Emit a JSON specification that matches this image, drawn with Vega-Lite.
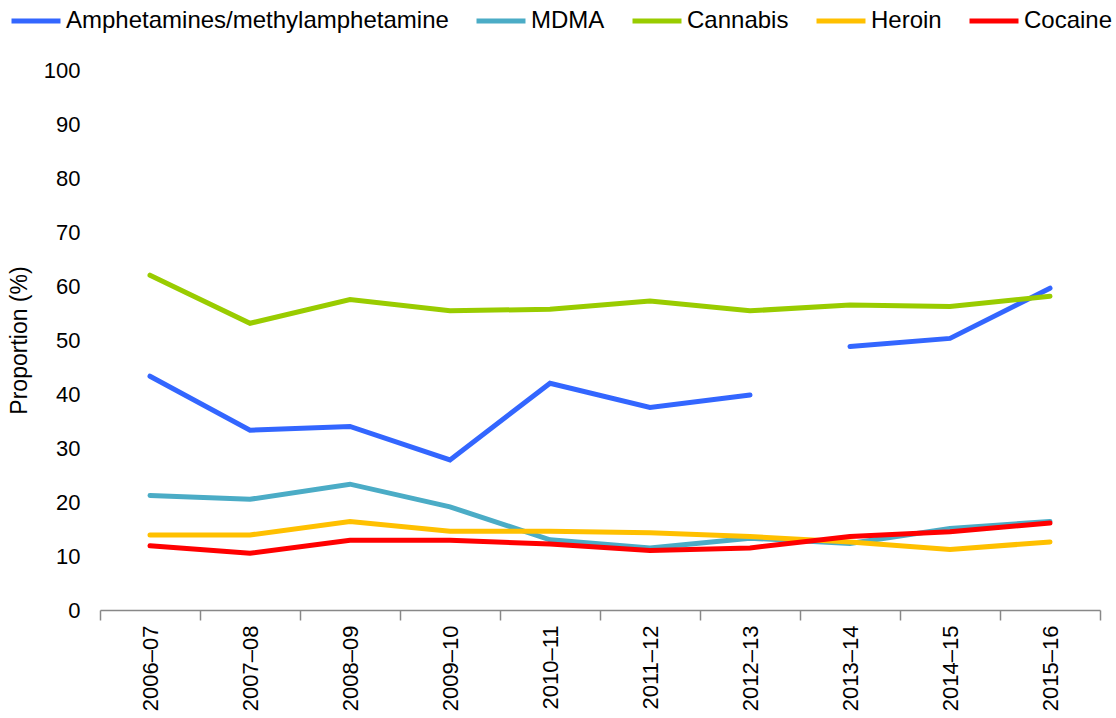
{
  "$schema": "https://vega.github.io/schema/vega-lite/v6.json",
  "width": 1000,
  "height": 540,
  "autosize": "none",
  "padding": {"left": 100, "top": 70, "right": 16, "bottom": 108},
  "background": "white",
  "config": {
    "font": "Liberation Sans",
    "view": {"stroke": null}
  },
  "data": {
    "values": [
      {"period": "2006–07", "drug": "Amphetamines/methylamphetamine", "seg": "a", "value": 43.3},
      {"period": "2007–08", "drug": "Amphetamines/methylamphetamine", "seg": "a", "value": 33.3},
      {"period": "2008–09", "drug": "Amphetamines/methylamphetamine", "seg": "a", "value": 34.0},
      {"period": "2009–10", "drug": "Amphetamines/methylamphetamine", "seg": "a", "value": 27.8},
      {"period": "2010–11", "drug": "Amphetamines/methylamphetamine", "seg": "a", "value": 42.0},
      {"period": "2011–12", "drug": "Amphetamines/methylamphetamine", "seg": "a", "value": 37.5},
      {"period": "2012–13", "drug": "Amphetamines/methylamphetamine", "seg": "a", "value": 39.8},
      {"period": "2013–14", "drug": "Amphetamines/methylamphetamine", "seg": "b", "value": 48.8},
      {"period": "2014–15", "drug": "Amphetamines/methylamphetamine", "seg": "b", "value": 50.3},
      {"period": "2015–16", "drug": "Amphetamines/methylamphetamine", "seg": "b", "value": 59.6},
      {"period": "2006–07", "drug": "MDMA", "seg": "a", "value": 21.2},
      {"period": "2007–08", "drug": "MDMA", "seg": "a", "value": 20.5},
      {"period": "2008–09", "drug": "MDMA", "seg": "a", "value": 23.3},
      {"period": "2009–10", "drug": "MDMA", "seg": "a", "value": 19.1},
      {"period": "2010–11", "drug": "MDMA", "seg": "a", "value": 13.0},
      {"period": "2011–12", "drug": "MDMA", "seg": "a", "value": 11.5},
      {"period": "2012–13", "drug": "MDMA", "seg": "a", "value": 13.3},
      {"period": "2013–14", "drug": "MDMA", "seg": "a", "value": 12.3},
      {"period": "2014–15", "drug": "MDMA", "seg": "a", "value": 15.1},
      {"period": "2015–16", "drug": "MDMA", "seg": "a", "value": 16.4},
      {"period": "2006–07", "drug": "Cannabis", "seg": "a", "value": 62.0},
      {"period": "2007–08", "drug": "Cannabis", "seg": "a", "value": 53.1},
      {"period": "2008–09", "drug": "Cannabis", "seg": "a", "value": 57.5},
      {"period": "2009–10", "drug": "Cannabis", "seg": "a", "value": 55.4},
      {"period": "2010–11", "drug": "Cannabis", "seg": "a", "value": 55.7},
      {"period": "2011–12", "drug": "Cannabis", "seg": "a", "value": 57.2},
      {"period": "2012–13", "drug": "Cannabis", "seg": "a", "value": 55.4},
      {"period": "2013–14", "drug": "Cannabis", "seg": "a", "value": 56.5},
      {"period": "2014–15", "drug": "Cannabis", "seg": "a", "value": 56.2},
      {"period": "2015–16", "drug": "Cannabis", "seg": "a", "value": 58.1},
      {"period": "2006–07", "drug": "Heroin", "seg": "a", "value": 13.9},
      {"period": "2007–08", "drug": "Heroin", "seg": "a", "value": 13.9},
      {"period": "2008–09", "drug": "Heroin", "seg": "a", "value": 16.4},
      {"period": "2009–10", "drug": "Heroin", "seg": "a", "value": 14.6},
      {"period": "2010–11", "drug": "Heroin", "seg": "a", "value": 14.6},
      {"period": "2011–12", "drug": "Heroin", "seg": "a", "value": 14.3},
      {"period": "2012–13", "drug": "Heroin", "seg": "a", "value": 13.6},
      {"period": "2013–14", "drug": "Heroin", "seg": "a", "value": 12.6},
      {"period": "2014–15", "drug": "Heroin", "seg": "a", "value": 11.2},
      {"period": "2015–16", "drug": "Heroin", "seg": "a", "value": 12.6},
      {"period": "2006–07", "drug": "Cocaine", "seg": "a", "value": 11.9},
      {"period": "2007–08", "drug": "Cocaine", "seg": "a", "value": 10.5},
      {"period": "2008–09", "drug": "Cocaine", "seg": "a", "value": 12.9},
      {"period": "2009–10", "drug": "Cocaine", "seg": "a", "value": 12.9},
      {"period": "2010–11", "drug": "Cocaine", "seg": "a", "value": 12.2},
      {"period": "2011–12", "drug": "Cocaine", "seg": "a", "value": 11.0},
      {"period": "2012–13", "drug": "Cocaine", "seg": "a", "value": 11.5},
      {"period": "2013–14", "drug": "Cocaine", "seg": "a", "value": 13.6},
      {"period": "2014–15", "drug": "Cocaine", "seg": "a", "value": 14.5},
      {"period": "2015–16", "drug": "Cocaine", "seg": "a", "value": 16.1}
    ]
  },
  "mark": {"type": "line", "strokeWidth": 5, "strokeCap": "round", "strokeJoin": "miter"},
  "encoding": {
    "x": {
      "field": "period",
      "type": "ordinal",
      "bandPosition": 0.5,
      "scale": {"type": "band", "paddingInner": 0, "paddingOuter": 0},
      "axis": {
        "title": null,
        "labelAngle": -90,
        "labelFontSize": 22,
        "labelColor": "#000000",
        "labelPadding": 5,
        "domainColor": "#888888",
        "domainWidth": 1.5,
        "tickColor": "#888888",
        "tickWidth": 1.5,
        "tickSize": 10,
        "tickBand": "extent",
        "grid": false
      }
    },
    "y": {
      "field": "value",
      "type": "quantitative",
      "scale": {"domain": [0, 100], "nice": false},
      "axis": {
        "title": "Proportion (%)",
        "titleFontSize": 23,
        "titleFontWeight": "normal",
        "titleColor": "#000000",
        "titlePadding": 12,
        "values": [0, 10, 20, 30, 40, 50, 60, 70, 80, 90, 100],
        "labelFontSize": 22,
        "labelColor": "#000000",
        "labelPadding": 20,
        "domain": false,
        "ticks": false,
        "grid": false
      }
    },
    "color": {
      "field": "drug",
      "type": "nominal",
      "sort": null,
      "scale": {
        "domain": ["Amphetamines/methylamphetamine", "MDMA", "Cannabis", "Heroin", "Cocaine"],
        "range": ["#3366FF", "#4BACC6", "#99CC00", "#FFC000", "#FF0000"]
      },
      "legend": {
        "title": null,
        "orient": "none",
        "direction": "horizontal",
        "legendX": -91,
        "legendY": -76,
        "symbolType": "stroke",
        "symbolStrokeWidth": 5,
        "symbolSize": 2400,
        "labelFontSize": 24,
        "labelColor": "#000000",
        "labelOffset": 3,
        "columnPadding": 17,
        "labelLimit": 500
      }
    },
    "detail": {"field": "seg"}
  }
}
